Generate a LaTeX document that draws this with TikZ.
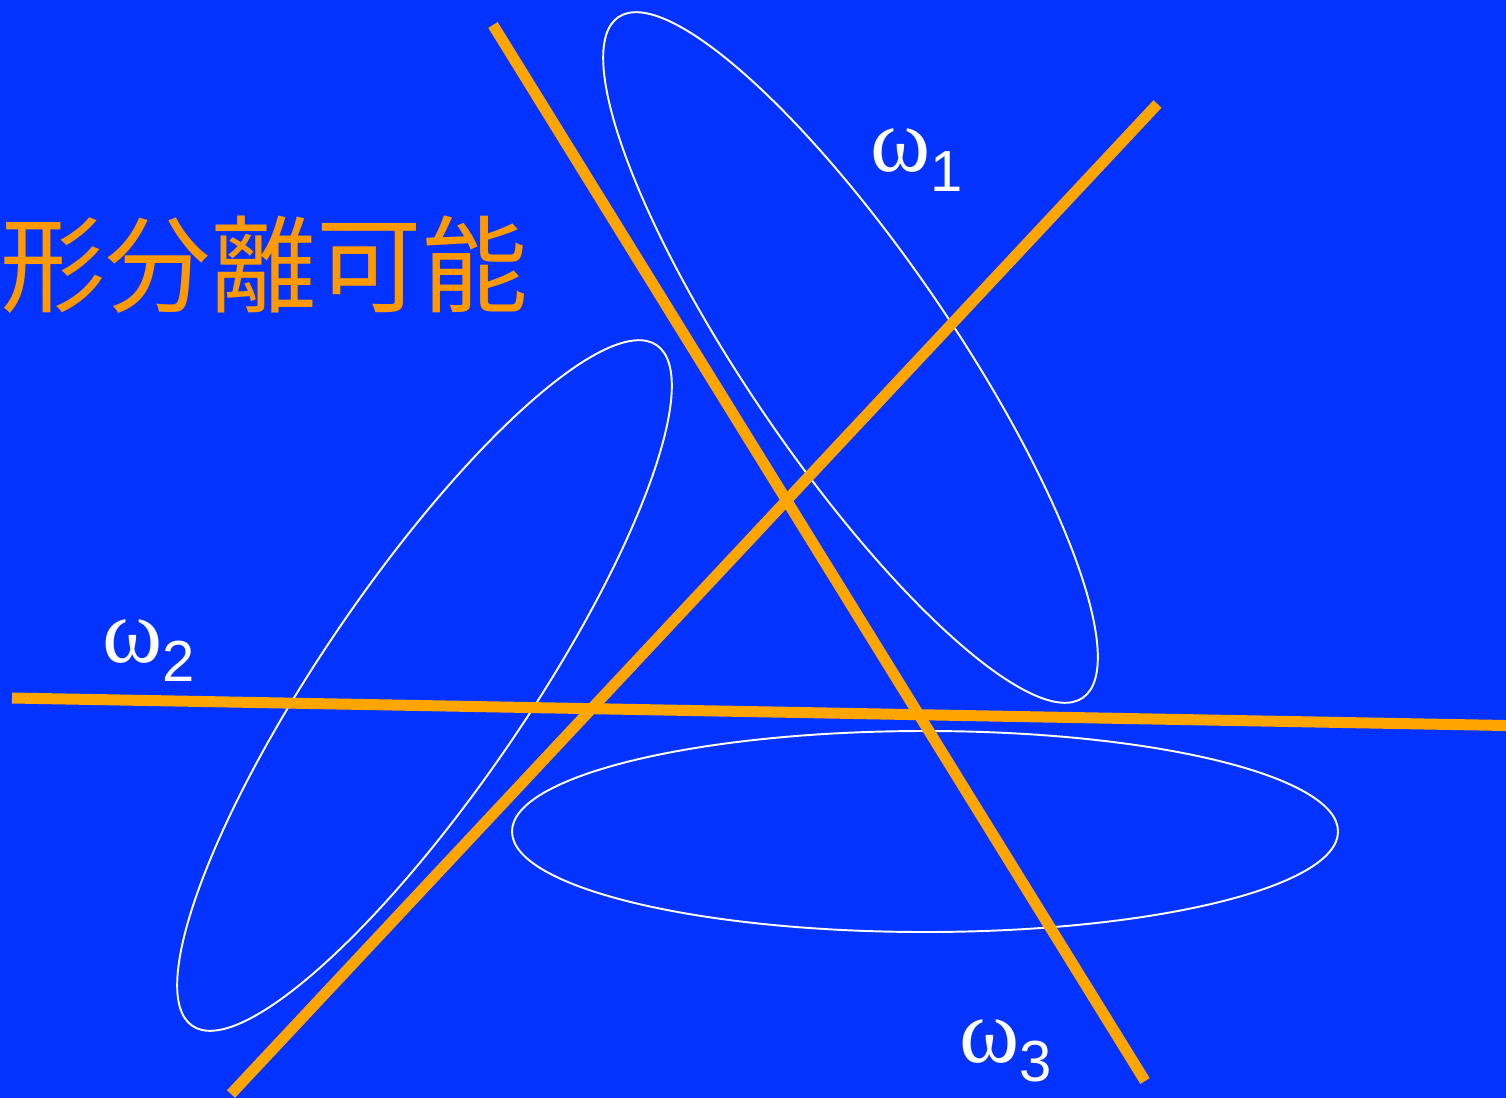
\documentclass[tikz,border=0pt]{standalone}
\usepackage{fontspec}
\setmainfont{Liberation Serif}
\setsansfont{Liberation Sans}
\newfontfamily\jpfont{Noto Sans CJK JP}
\definecolor{slideblue}{RGB}{4,51,255}
\definecolor{lineorange}{RGB}{255,165,0}
\definecolor{titleorange}{RGB}{255,153,0}
\newcommand{\classlabel}[1]{{\fontsize{52}{54}\selectfont ω}\raisebox{-11pt}{\sffamily\fontsize{33}{36}\selectfont #1}}

\begin{document}
\begin{tikzpicture}[
    x=0.02cm, y=-0.02cm,
    cluster/.style={draw=white, line width=1.1pt},
    boundary/.style={draw=lineorange, line width=0.22cm},
    label/.style={text=white, inner sep=0pt, anchor=base west}
]
    \fill[slideblue] (0,0) rectangle (1506,1098);
    \useasboundingbox (0,0) rectangle (1506,1098);

    % class regions
    \draw[cluster, rotate around={-55.7:(850.5,357.5)}] (850.5,357.5) ellipse [x radius=412, y radius=103];
    \draw[cluster, rotate around={55.7:(424.5,685.5)}] (424.5,685.5) ellipse [x radius=412, y radius=103];
    \draw[cluster] (925,831.5) ellipse [x radius=413, y radius=100.5];

    % separating lines
    \draw[boundary] (493,25) -- (1145,1081);
    \draw[boundary] (1157.5,104) -- (231,1094);
    \draw[boundary] (12,698) -- (1506,725.5);

    \node[text=titleorange, inner sep=0pt, anchor=west, font=\jpfont\fontsize{60}{62}\selectfont] (title) at (0,265) {形分離可能};

    \node[label] (w1) at (870,172) {\classlabel{1}};
    \node[label] (w2) at (102,662) {\classlabel{2}};
    \node[label] (w3) at (959,1062) {\classlabel{3}};
\end{tikzpicture}
\end{document}
